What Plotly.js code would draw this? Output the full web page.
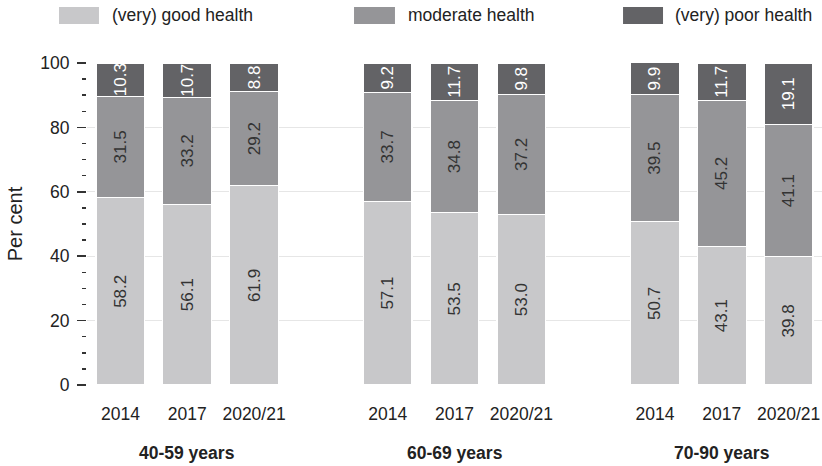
<!DOCTYPE html>
<html>
<head>
<meta charset="utf-8">
<script src="https://cdn.plot.ly/plotly-3.0.1.min.js"></script>
<style>html,body{margin:0;padding:0;background:#fff;overflow:hidden}#chart{width:822px;height:466px}</style>
</head>
<body>
<div id="chart"></div>
<script>
// ---- data ----
var groups = ["40-59 years", "60-69 years", "70-90 years"];
var years = ["2014", "2017", "2020/21"];
var good     = [58.2, 56.1, 61.9, 57.1, 53.5, 53.0, 50.7, 43.1, 39.8];
var moderate = [31.5, 33.2, 29.2, 33.7, 34.8, 37.2, 39.5, 45.2, 41.1];
var poor     = [10.3, 10.7, 8.8, 9.2, 11.7, 9.8, 9.9, 11.7, 19.1];
var seriesNames = ["(very) good health", "moderate health", "(very) poor health"];
var yTicks = [0, 20, 40, 60, 80, 100];

// ---- build categories: groups of years with an empty slot between groups ----
var cats = [], tickvals = [], ticktext = [], barCats = [];
groups.forEach(function (g, gi) {
  if (gi > 0) { cats.push("gap" + gi); }
  years.forEach(function (yr) {
    var c = g + "|" + yr;
    cats.push(c); barCats.push(c); tickvals.push(c); ticktext.push(yr);
  });
});

var colors = ["#c8c8ca", "#959598", "#636366"];
var textColors = ["#333333", "#333333", "#ffffff"];
var values = [good, moderate, poor];
var FONT = "Liberation Sans, Arial, sans-serif";

var traces = values.map(function (vals, i) {
  return {
    type: "bar",
    name: seriesNames[i],
    x: barCats,
    y: vals,
    marker: { color: colors[i], line: { color: "#ffffff", width: 1.2 } },
    texttemplate: "%{y:.1f}",
    textposition: "inside",
    insidetextanchor: "middle",
    textangle: -90,
    constraintext: "none",
    textfont: { family: FONT, size: 17, color: textColors[i] },
    hoverinfo: "skip",
    showlegend: false
  };
});

// legend drawn as swatches + text (paper coordinates)
var legendPos = [
  { x0: -0.0381, x1: 0.0163, tx: 0.0313 },
  { x0: 0.3633, x1: 0.4190, tx: 0.4340 },
  { x0: 0.7293, x1: 0.7837, tx: 0.7973 }
];
var shapes = legendPos.map(function (p, i) {
  return { type: "rect", xref: "paper", yref: "paper", x0: p.x0, x1: p.x1, y0: 1.1211, y1: 1.1739,
           fillcolor: colors[i], line: { width: 0 } };
});
var annotations = legendPos.map(function (p, i) {
  return { xref: "paper", yref: "paper", x: p.tx, y: 1.149, xanchor: "left", yanchor: "middle",
           text: seriesNames[i], showarrow: false, font: { family: FONT, size: 17.5, color: "#222" } };
});
groups.forEach(function (g) {
  annotations.push({ xref: "x", yref: "paper", x: g + "|" + years[1], y: -0.21, xanchor: "center", yanchor: "middle",
    text: "<b>" + g + "</b>", showarrow: false, font: { family: FONT, size: 17.5, color: "#222" } });
});

var layout = {
  width: 822, height: 466,
  margin: { l: 87, r: 0, t: 63, b: 81 },
  barmode: "stack",
  bargap: 0.27,
  paper_bgcolor: "#fff", plot_bgcolor: "#fff",
  font: { family: FONT, size: 17.5, color: "#222" },
  showlegend: false,
  xaxis: {
    type: "category",
    categoryorder: "array", categoryarray: cats,
    range: [-0.5, cats.length - 0.5],
    tickmode: "array", tickvals: tickvals, ticktext: ticktext,
    ticks: "", showgrid: false, zeroline: false, showline: false,
    ticklabelstandoff: 16,
    tickfont: { family: FONT, size: 17.5, color: "#222" },
    fixedrange: true
  },
  yaxis: {
    range: [0, 100],
    tickmode: "array", tickvals: yTicks,
    ticks: "outside", ticklen: 9, tickwidth: 1.5, tickcolor: "#333",
    minor: { dtick: 5, ticks: "outside", ticklen: 4, tickwidth: 1.5, tickcolor: "#333", showgrid: false },
    showgrid: true, gridcolor: "#e6e6e6", gridwidth: 1,
    zeroline: false, showline: false,
    ticklabelstandoff: 4,
    tickfont: { family: FONT, size: 17.5, color: "#222" },
    title: { text: "Per cent", font: { family: FONT, size: 20, color: "#222" }, standoff: 12 },
    fixedrange: true
  },
  shapes: shapes,
  annotations: annotations
};

Plotly.newPlot("chart", traces, layout, { displayModeBar: false, staticPlot: true });
</script>
</body>
</html>
